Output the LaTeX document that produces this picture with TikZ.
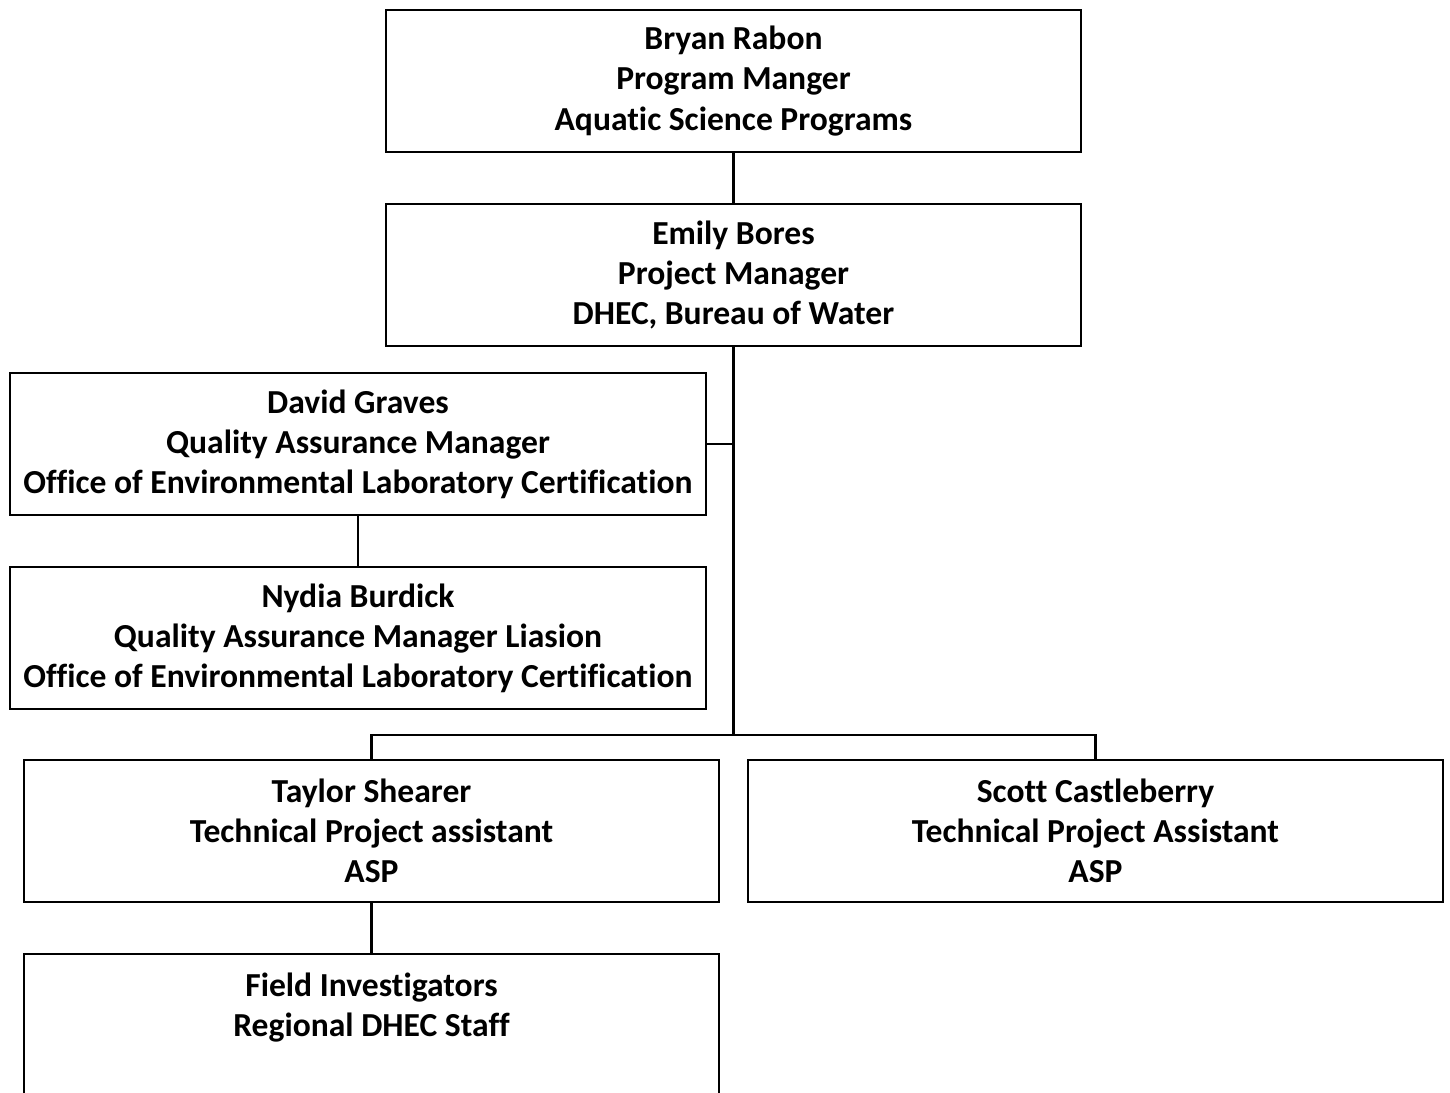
\documentclass[tikz,border=0pt]{standalone}
\usepackage{fontspec}
\setmainfont{Carlito}[Ligatures=NoCommon]
\usetikzlibrary{positioning, calc}

\begin{document}
\begin{tikzpicture}[
        x=0.01cm, y=-0.01cm,
        box/.style={rectangle, draw, line width=0.6pt, minimum width=6.95cm, minimum height=1.42cm, inner sep=0pt, align=center, font=\bfseries\fontsize{9.55}{11.4}\selectfont},
        link/.style={line width=0.6pt}
    ]
    \useasboundingbox (0,0) rectangle (1450,1093);

    % Program level
    \node[box] (rabon) at (733.5,81) {Bryan Rabon\\Program Manger\\Aquatic Science Programs};

    % Project manager
    \node[box] (bores) at (733.5,275) {Emily Bores\\Project Manager\\DHEC, Bureau of Water};

    % Quality assurance
    \node[box] (graves) at (358,444) {David Graves\\Quality Assurance Manager\\Office of Environmental Laboratory Certification};
    \node[box] (burdick) at (358,638) {Nydia Burdick\\Quality Assurance Manager Liasion\\Office of Environmental Laboratory Certification};

    % Assistants
    \node[box] (shearer) at (371.5,831) {Taylor Shearer\\Technical Project assistant\\ASP};
    \node[box] (castle) at (1095.5,831) {Scott Castleberry\\Technical Project Assistant\\ASP};

    % Field staff
    \node[box] (field) at (371.5,1025) {Field Investigators\\Regional DHEC Staff\\\mbox{}};

    % Lines
    \coordinate (fork) at (733.5,735);
    \draw[link] (rabon) -- (bores);
    \draw[link] (bores.south) -- (fork);
    \draw[link] (graves.east) -- (graves.east -| fork);
    \draw[link] (graves) -- (burdick);
    \draw[link] (shearer.north) |- (fork) -| (castle.north);
    \draw[link] (shearer) -- (field);

    \end{tikzpicture}
\end{document}
